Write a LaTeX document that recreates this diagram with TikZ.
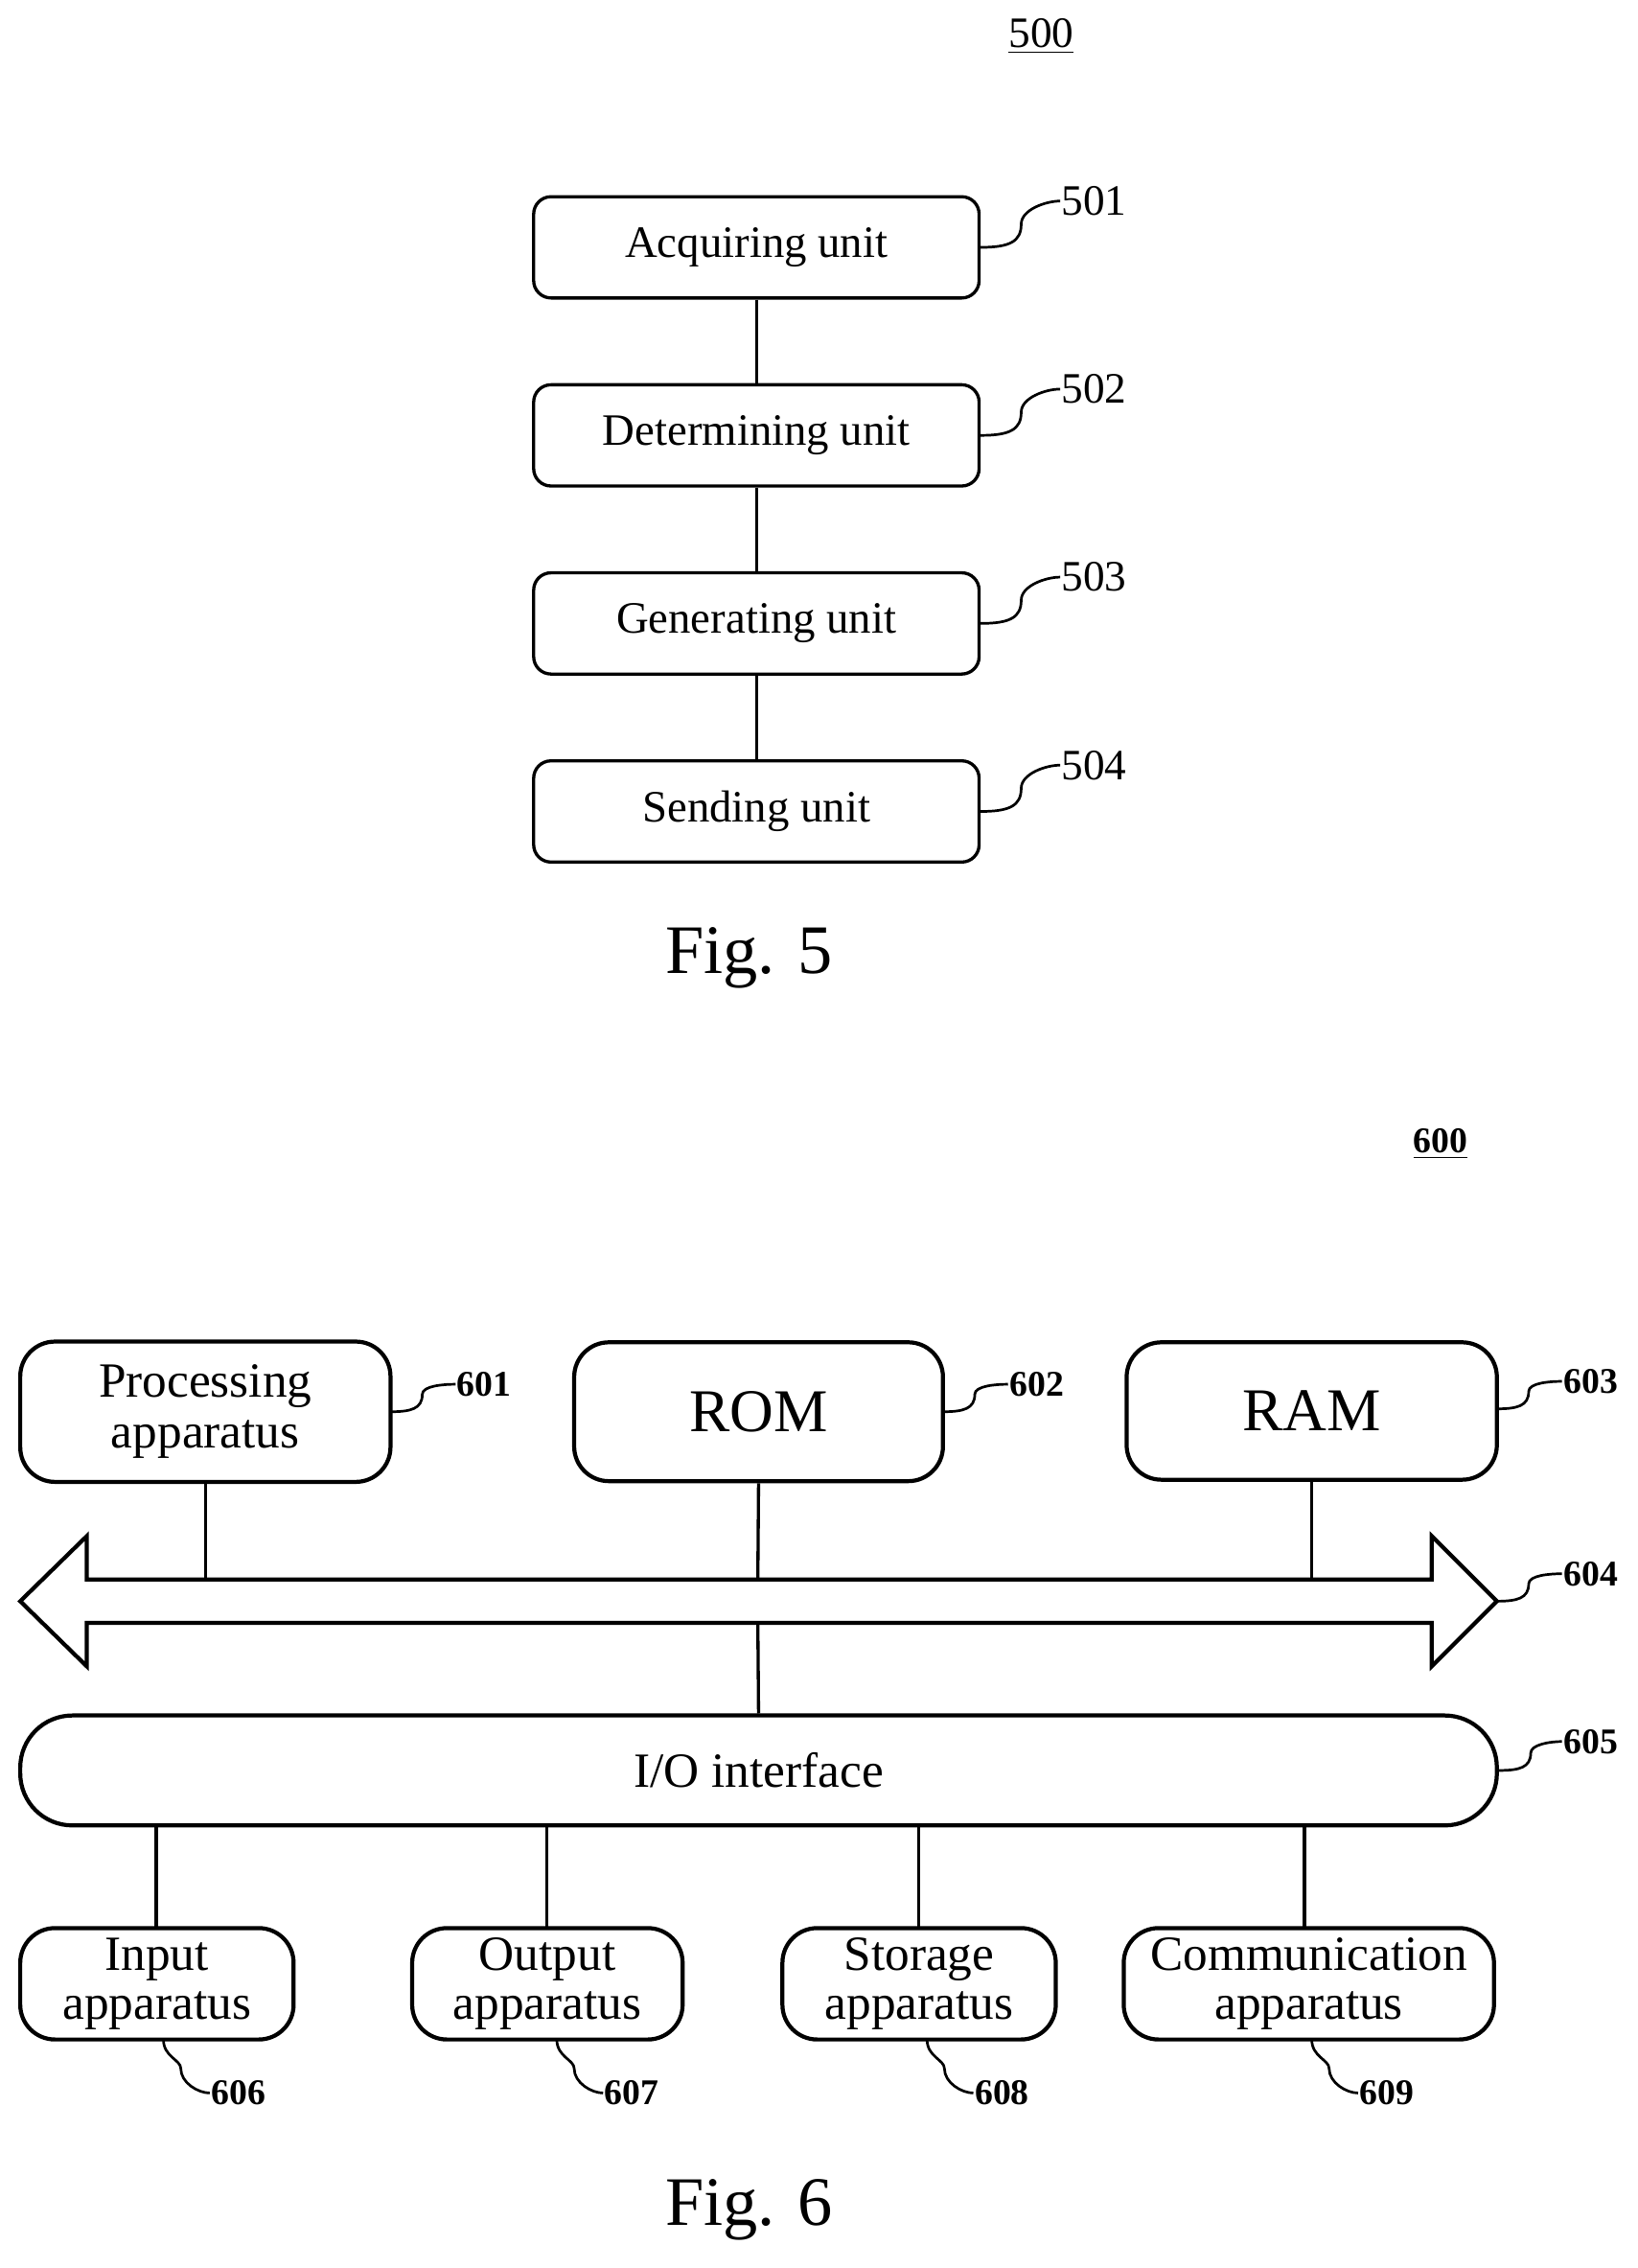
\documentclass[tikz,border=0pt]{standalone}
\usepackage{fontspec}
\setmainfont{Liberation Serif}
\begin{document}
\begin{tikzpicture}[x=0.5pt,y=-0.5pt,line width=1.1pt,
  u/.style={draw,rounded corners=6pt,minimum width=154pt,minimum height=35pt,font=\fontsize{15.5}{17}\selectfont,inner sep=0pt},
  b/.style={draw,line width=1.4pt,rounded corners=12pt,font=\fontsize{17}{17}\selectfont,align=center,inner sep=0pt},
  lab/.style={font=\fontsize{15}{15}\selectfont,anchor=west,inner sep=0pt},
  blab/.style={font=\bfseries\fontsize{12.5}{12.5}\selectfont,anchor=west,inner sep=0pt},
  sq/.style={line width=0.9pt}]
\useasboundingbox (0,0) rectangle (1132,1568);
% Fig 5
\node[font=\fontsize{15}{15}\selectfont] (t500) at (720,25) {\underline{500}};
\node[u] (a) at (523,171) {Acquiring unit};
\node[u] (d) at (523,301) {Determining unit};
\node[u] (g) at (523,431) {Generating unit};
\node[u] (s) at (523,561) {Sending unit};
\draw (a) -- (d); \draw (d) -- (g); \draw (g) -- (s);
\foreach \n/\y/\t in {a/169/501,d/299/502,g/429/503,s/559/504}{
  \node[lab] (l\t) at (733,\y-30) {\t};
  \draw[sq] (\n.east) .. controls +(20,0) and +(0,12) .. ++(28,-16) .. controls +(0,-10) and +(-10,0) .. (l\t.west);
}
\node[font=\fontsize{24}{24}\selectfont] (f5) at (518,662) {Fig. 5};
% Fig 6
\node[font=\bfseries\fontsize{12.5}{12.5}\selectfont] (t600) at (996,791) {\underline{600}};
\node[b,minimum width=128pt,minimum height=48.5pt,font=\fontsize{17}{17.5}\selectfont] (p) at (142,976) {Processing\\apparatus};
\node[b,minimum width=127.5pt,minimum height=48pt,font=\fontsize{21}{21}\selectfont] (rom) at (524.5,976) {ROM};
\node[b,minimum width=128pt,minimum height=47.5pt,font=\fontsize{21}{21}\selectfont] (ram) at (907,975.5) {RAM};
\draw[line width=1.4pt] (14,1107) -- (60,1062) -- (60,1092) -- (990,1092) -- (990,1062) -- (1035,1107) -- (990,1152) -- (990,1122) -- (60,1122) -- (60,1152) -- cycle;
\coordinate (bt) at (524,1092); \coordinate (bb) at (524,1122);
\draw (p.south) -- (p.south |- bt);
\draw (rom.south) -- (bt);
\draw (ram.south) -- (ram.south |- bt);
\node[b,rounded corners=18pt,minimum width=510.5pt,minimum height=38pt] (io) at (524.5,1224) {I/O interface};
\draw (bb) -- (io.north);
\node[b,minimum width=94.5pt,minimum height=38.5pt,font=\fontsize{17}{17}\selectfont] (in) at (108.5,1371.5) {Input\\apparatus};
\node[b,minimum width=93.5pt,minimum height=38.5pt,font=\fontsize{17}{17}\selectfont] (out) at (378.5,1371.5) {Output\\apparatus};
\node[b,minimum width=94.5pt,minimum height=38.5pt,font=\fontsize{17}{17}\selectfont] (st) at (635.5,1371.5) {Storage\\apparatus};
\node[b,minimum width=128pt,minimum height=38.5pt,font=\fontsize{17}{17}\selectfont] (com) at (905,1371.5) {Communication\\apparatus};
\draw (108,1333) -- (108,1262);
\draw (378,1333) -- (378,1262);
\draw (635,1333) -- (635,1262);
\draw (902,1333) -- (902,1262);
\foreach \n/\x/\y/\t in {p/270/976/601,rom/652/976/602,ram/1035/974/603}{
  \node[blab] (l\t) at (\x+45,\y-19) {\t};
  \draw[sq] (\x,\y) .. controls +(14,0) and +(0,10) .. ++(22,-12) .. controls +(0,-6) and +(-8,0) .. (l\t.west);
}
\coordinate (r604) at (1035,1107);
\node[blab] (l604) at (1080,1088) {604};
\draw[sq] (r604) .. controls +(14,0) and +(0,10) .. ++(22,-12) .. controls +(0,-6) and +(-8,0) .. (l604.west);
\node[blab] (l605) at (1080,1204) {605};
\draw[sq] (io.east) .. controls +(14,0) and +(0,10) .. ++(22,-12) .. controls +(0,-6) and +(-8,0) .. (l605.west);
\foreach \n/\x/\t in {in/113/606,out/385/607,st/641/608,com/907/609}{
  \node[blab] (l\t) at (\x+32,1447) {\t};
  \draw[sq] (\x,1410) .. controls +(0,12) and +(0,-6) .. ++(12,20) .. controls +(0,10) and +(-8,0) .. (l\t.west);
}
\node[font=\fontsize{24}{24}\selectfont] (f6) at (518,1528) {Fig. 6};
\end{tikzpicture}
\end{document}
